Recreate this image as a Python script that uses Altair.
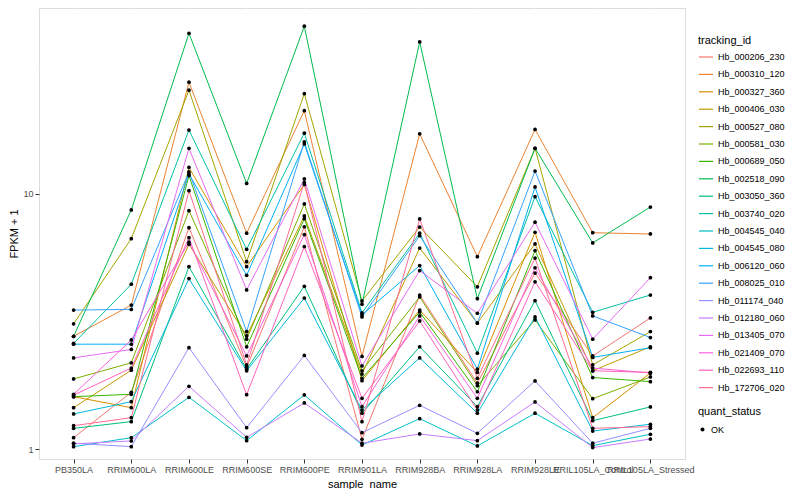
import altair as alt
import pandas as pd

SAMPLES = ["PB350LA", "RRIM600LA", "RRIM600LE", "RRIM600SE", "RRIM600PE", "RRIM901LA",
           "RRIM928BA", "RRIM928LA", "RRIM928LE", "RRIL105LA_Control", "RRIL105LA_Stressed"]

TRACKING_IDS = ["Hb_000206_230", "Hb_000310_120", "Hb_000327_360", "Hb_000406_030",
                "Hb_000527_080", "Hb_000581_030", "Hb_000689_050", "Hb_002518_090",
                "Hb_003050_360", "Hb_003740_020", "Hb_004545_040", "Hb_004545_080",
                "Hb_006120_060", "Hb_008025_010", "Hb_011174_040", "Hb_012180_060",
                "Hb_013405_070", "Hb_021409_070", "Hb_022693_110", "Hb_172706_020"]

COLORS = ["#F8766D", "#EA8331", "#D89000", "#C09B00", "#A3A500", "#7CAE00", "#39B600",
          "#00BB4E", "#00BF7D", "#00C1A3", "#00BFC4", "#00BAE0", "#00B0F6", "#35A2FF",
          "#9590FF", "#C77CFF", "#E76BF3", "#FA62DB", "#FF62BC", "#FF6C91"]

# FPKM + 1 per sample (same order as SAMPLES)
Hb_000206_230 = [1.110, 1.672, 7.38, 2.096, 7.44, 1.094, 4.02, 1.814, 4.90, 2.32, 3.27]
Hb_000310_120 = [2.77, 3.67, 27.4, 7.02, 21.2, 2.31, 17.2, 5.68, 17.9, 7.05, 6.97]
Hb_000327_360 = [1.607, 1.455, 12.7, 5.19, 10.9, 1.857, 3.51, 2.00, 7.08, 1.33, 1.99]
Hb_000406_030 = [1.455, 2.04, 6.35, 2.78, 8.20, 1.97, 6.14, 3.12, 6.37, 2.03, 2.52]
Hb_000527_080 = [3.10, 6.68, 25.5, 5.43, 24.7, 3.81, 7.42, 4.33, 15.1, 2.14, 2.89]
Hb_000581_030 = [1.886, 2.18, 8.60, 2.70, 9.14, 2.03, 3.95, 1.775, 3.21, 1.578, 1.92]
Hb_000689_050 = [1.607, 1.642, 11.8, 2.52, 8.00, 1.897, 3.45, 1.68, 6.00, 1.91, 1.84]
Hb_002518_090 = [2.77, 8.66, 42.6, 11.0, 45.4, 3.70, 39.4, 3.89, 15.1, 6.43, 8.89]
Hb_003050_360 = [1.208, 1.283, 5.19, 2.06, 4.35, 1.384, 2.52, 1.469, 3.82, 1.294, 1.465]
Hb_003740_020 = [2.60, 4.43, 17.8, 6.07, 17.3, 3.42, 7.02, 2.38, 9.76, 3.44, 4.02]
Hb_004545_040 = [1.024, 1.110, 1.598, 1.081, 1.632, 1.039, 1.318, 1.030, 1.384, 1.033, 1.145]
Hb_004545_080 = [1.375, 1.536, 4.66, 2.03, 3.91, 1.425, 2.28, 1.384, 3.30, 1.179, 1.253]
Hb_006120_060 = [2.58, 2.58, 11.98, 4.80, 15.7, 3.36, 5.24, 2.06, 10.65, 2.29, 2.50]
Hb_008025_010 = [3.51, 3.53, 12.2, 2.89, 16.0, 3.30, 6.86, 3.12, 12.3, 3.33, 2.74]
Hb_011174_040 = [1.056, 1.024, 2.50, 1.215, 2.33, 1.161, 1.487, 1.155, 1.852, 1.056, 1.208]
Hb_012180_060 = [1.05, 1.078, 1.765, 1.114, 1.518, 1.056, 1.148, 1.081, 1.532, 1.015, 1.097]
Hb_013405_070 = [2.28, 2.46, 15.1, 4.21, 11.45, 2.12, 5.01, 3.41, 7.75, 2.70, 4.70]
Hb_021409_070 = [1.642, 2.68, 6.47, 2.32, 6.93, 1.469, 3.33, 1.584, 5.14, 2.08, 1.99]
Hb_022693_110 = [1.63, 2.08, 6.74, 1.636, 6.22, 1.584, 3.18, 1.425, 4.53, 2.03, 2.00]
Hb_172706_020 = [1.237, 1.33, 10.3, 2.14, 11.07, 1.283, 7.98, 1.897, 5.61, 1.208, 1.226]

SERIES = [Hb_000206_230, Hb_000310_120, Hb_000327_360, Hb_000406_030, Hb_000527_080,
          Hb_000581_030, Hb_000689_050, Hb_002518_090, Hb_003050_360, Hb_003740_020,
          Hb_004545_040, Hb_004545_080, Hb_006120_060, Hb_008025_010, Hb_011174_040,
          Hb_012180_060, Hb_013405_070, Hb_021409_070, Hb_022693_110, Hb_172706_020]

Y_MAJOR = [1, 10]
Y_MINOR = [3.1623, 31.623]

rows = []
for tid, vals in zip(TRACKING_IDS, SERIES):
    for s, v in zip(SAMPLES, vals):
        rows.append({"tracking_id": tid, "sample_name": s, "fpkm": v, "quant_status": "OK"})
df = pd.DataFrame(rows)
grid_df = pd.DataFrame({"fpkm": Y_MINOR})

FONT = "Liberation Sans"

yscale = alt.Scale(type="log", domain=[0.916, 53.5], nice=False)
yaxis = alt.Axis(values=Y_MAJOR, format="d", grid=True, gridColor="white", gridWidth=1.1,
                 domain=False, tickColor="#333333", tickSize=4, tickWidth=1,
                 labelColor="#4D4D4D", labelFontSize=9, labelFont=FONT, labelPadding=2,
                 titleFont=FONT, titleFontSize=11, titleFontWeight="normal",
                 titleColor="black", titlePadding=3)
xscale = alt.Scale(type="point", padding=0.6)
xaxis = alt.Axis(grid=True, gridColor="white", gridWidth=1.1, domain=False,
                 tickColor="#333333", tickSize=4, tickWidth=1, labelAngle=0,
                 labelColor="#4D4D4D", labelFontSize=9, labelFont=FONT, labelPadding=2,
                 labelOverlap=False, labelFlush=False, labelBound=False,
                 titleFont=FONT, titleFontSize=11, titleFontWeight="normal",
                 titleColor="black", titlePadding=4)

X = alt.X("sample_name:N", sort=SAMPLES, scale=xscale, axis=xaxis, title="sample_name")
Y = alt.Y("fpkm:Q", scale=yscale, axis=yaxis, title="FPKM + 1")

minor = alt.Chart(grid_df).mark_rule(color="white", strokeWidth=0.55).encode(y=Y)

lines = alt.Chart(df).mark_line(strokeWidth=1).encode(
    x=X, y=Y,
    color=alt.Color("tracking_id:N",
                    scale=alt.Scale(domain=TRACKING_IDS, range=COLORS),
                    legend=alt.Legend(orient="none", legendX=659, legendY=27,
                                      direction="vertical", symbolType="stroke",
                                      symbolSize=200, symbolStrokeWidth=1.2,
                                      rowPadding=4.4, labelFontSize=9, labelFont=FONT,
                                      labelColor="black", titleFont=FONT,
                                      titleFontSize=11, titleFontWeight="normal",
                                      titleColor="black", titlePadding=3,
                                      title="tracking_id")),
)

points = alt.Chart(df).mark_point(filled=True, color="black", size=14, opacity=1).encode(
    x=X, y=Y,
    shape=alt.Shape("quant_status:N", scale=alt.Scale(range=["circle"]),
                    legend=alt.Legend(orient="none", legendX=659, legendY=398,
                                      direction="vertical", symbolSize=16,
                                      symbolFillColor="black", symbolStrokeColor="black",
                                      labelFontSize=9, labelFont=FONT, labelColor="black",
                                      titleFont=FONT, titleFontSize=11,
                                      titleFontWeight="normal", titleColor="black",
                                      titlePadding=8, title="quant_status")),
)

chart = alt.layer(minor, lines, points).properties(
    width=646, height=451,
    padding={"left": 0, "top": 0, "right": 0, "bottom": 0},
).configure_view(fill="#EBEBEB", stroke=None).configure(background="white")

chart.save("out.html", embed_options={"renderer": "svg", "actions": False})
